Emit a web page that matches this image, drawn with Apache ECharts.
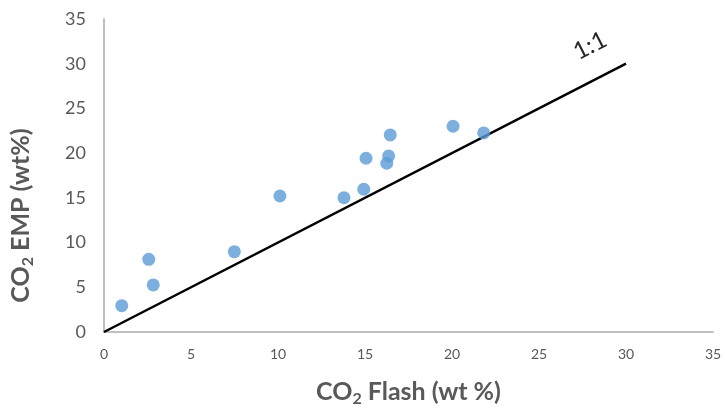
<!DOCTYPE html>
<html>
<head>
<meta charset="utf-8">
<script src="https://cdn.jsdelivr.net/npm/echarts@6/dist/echarts.min.js"></script>
<style>html,body{margin:0;padding:0;background:#fff}#c{width:725px;height:416px}</style>
</head>
<body>
<div id="c"></div>
<script>
const flashX = [1.02, 2.57, 2.83, 7.49, 10.11, 13.79, 14.93, 15.06, 16.25, 16.36, 16.45, 20.06, 21.82];
const empY   = [2.94, 8.13, 5.26, 8.98, 15.21, 15.02, 15.96, 19.43, 18.87, 19.69, 22.04, 23.01, 22.26];
const oneToOne = [[0, 0], [30, 30]];
const axisTicks = [0, 5, 10, 15, 20, 25, 30, 35];

const chart = echarts.init(document.getElementById('c'), null, {renderer: 'canvas'});
const FONT = 'Lato, "Open Sans", sans-serif';
const titleRich = {
  a: {fontFamily: FONT, fontSize: 25, fontWeight: 'bold', color: '#595959'},
  s: {fontFamily: FONT, fontSize: 16, fontWeight: 'bold', color: '#595959', padding: [14, 0, 0, 0]}
};
chart.setOption({
  animation: false,
  grid: {left: 104, right: 12, top: 19, bottom: 84, containLabel: false},
  xAxis: {
    type: 'value', min: axisTicks[0], max: axisTicks[axisTicks.length - 1], interval: 5,
    axisLine: {show: true, lineStyle: {color: '#BFBFBF', width: 2}},
    axisTick: {show: false}, splitLine: {show: false},
    axisLabel: {fontFamily: FONT, fontSize: 14, color: '#595959', margin: 15},
    name: '{a|CO}{s|2}{a| Flash (wt %)}', nameLocation: 'middle', nameGap: 45,
    nameTextStyle: {rich: titleRich}
  },
  yAxis: {
    type: 'value', min: axisTicks[0], max: axisTicks[axisTicks.length - 1], interval: 5,
    axisLine: {show: true, lineStyle: {color: '#BFBFBF', width: 2}},
    axisTick: {show: false}, splitLine: {show: false},
    axisLabel: {fontFamily: FONT, fontSize: 18, color: '#595959', margin: 18},
    name: '{a|CO}{s|2}{a| EMP (wt%)}', nameLocation: 'middle', nameGap: 68,
    nameTextStyle: {rich: titleRich, padding: [0, 80, 0, 0]}
  },
  series: [
    {
      type: 'line', data: oneToOne, symbol: 'none', silent: true,
      lineStyle: {color: '#000000', width: 2.5},
      label: {show: false},
      endLabel: {show: true, formatter: '1:1', fontFamily: FONT, fontSize: 24, color: '#262626',
        rotate: 27, offset: [-48, -36]},
      z: 2
    },
    {
      type: 'scatter', data: flashX.map((x, i) => [x, empY[i]]),
      symbol: 'circle', symbolSize: 13,
      itemStyle: {color: '#5B9BD5'},
      z: 3
    }
  ]
});
</script>
</body>
</html>
